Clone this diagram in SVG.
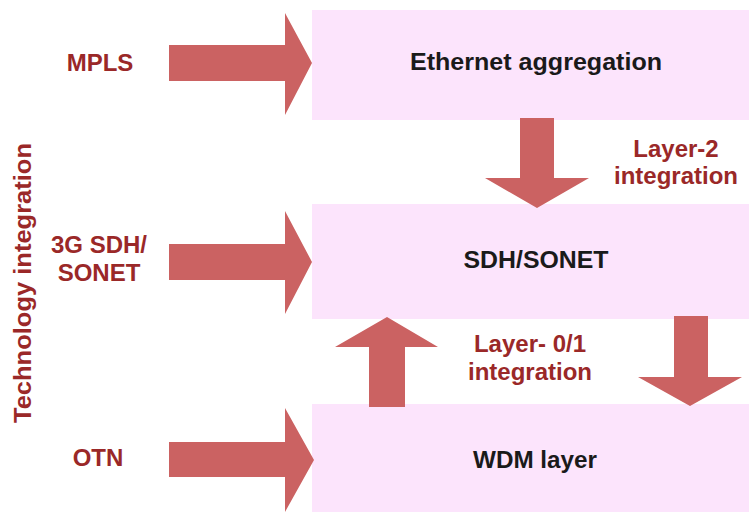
<svg xmlns="http://www.w3.org/2000/svg" width="749" height="512" viewBox="0 0 749 512">
<style>
.band{fill:#fce4fc}
.arr{fill:#cb6262}
.red{font-family:"Liberation Sans",Arial,sans-serif;font-weight:bold;fill:#9a2828;text-anchor:middle;font-size:24px}
.blk{font-family:"Liberation Sans",Arial,sans-serif;font-weight:bold;fill:#1a1a1a;text-anchor:middle;font-size:24px}
</style>
<rect width="749" height="512" fill="#ffffff"/>
<g id="eth"><rect class="band" x="312" y="10" width="437" height="110"/><text class="blk" x="536" y="70" textLength="252" lengthAdjust="spacingAndGlyphs">Ethernet aggregation</text></g>
<g id="sdh"><rect class="band" x="312" y="204" width="437" height="115"/><text class="blk" x="536" y="268" textLength="145" lengthAdjust="spacingAndGlyphs">SDH/SONET</text></g>
<g id="wdm"><rect class="band" x="312" y="404" width="437" height="108"/><text class="blk" x="535" y="468" textLength="124" lengthAdjust="spacingAndGlyphs">WDM layer</text></g>
<g id="labels">
<text class="red" x="100" y="71">MPLS</text>
<text class="red" x="99" y="253">3G SDH/</text>
<text class="red" x="99" y="281">SONET</text>
<text class="red" x="98" y="466">OTN</text>
<text class="red" x="676" y="157">Layer-2</text>
<text class="red" x="676" y="184">integration</text>
<text class="red" x="530" y="352">Layer- 0/1</text>
<text class="red" x="530" y="380">integration</text>
<text class="red" font-size="25" transform="translate(31,283) rotate(-90)" textLength="280" lengthAdjust="spacingAndGlyphs">Technology integration</text>
</g>
<g id="connectors">
<polygon class="arr" points="169,45 285,45 285,13 312,63 285,115 285,81 169,81"/>
<polygon class="arr" points="169,244 285,244 285,211 312,262 285,314 285,280 169,280"/>
<polygon class="arr" points="169,442 285,442 285,408 314,460 285,512 285,477 169,477"/>
<polygon class="arr" points="520,118 554,118 554,178 589,178 537,208 485,178 520,178"/>
<polygon class="arr" points="369,407 405,407 405,347 438,347 387,317 335,347 369,347"/>
<polygon class="arr" points="674,316 708,316 708,377 742,377 690,406 638,377 674,377"/>
</g>
</svg>
